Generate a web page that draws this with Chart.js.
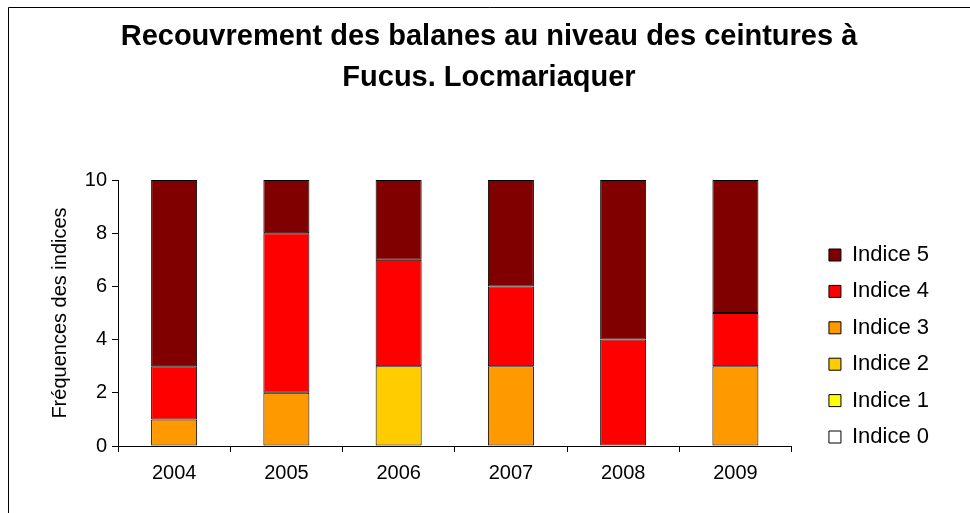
<!DOCTYPE html>
<html><head><meta charset="utf-8">
<script src="https://cdn.jsdelivr.net/npm/chart.js@4/dist/chart.umd.min.js"></script>
<style>html,body{margin:0;padding:0;background:#fff}#wrap{width:970px;height:513px;position:relative}</style>
</head><body><div id="wrap"><canvas id="c" width="970" height="513"></canvas></div>
<script>
const years = ['2004','2005','2006','2007','2008','2009'];
const indice0 = [0,0,0,0,0,0];
const indice1 = [0,0,0,0,0,0];
const indice2 = [0,0,3,0,0,0];
const indice3 = [1,2,0,3,0,3];
const indice4 = [2,6,4,3,4,2];
const indice5 = [7,2,3,4,6,5];
const seriesNames = ['Indice 0','Indice 1','Indice 2','Indice 3','Indice 4','Indice 5'];
const seriesColors = ['#FFFFFF','#FFFF00','#FFCC00','#FF9900','#FF0000','#800000'];
const titleLines = ['Recouvrement des balanes au niveau des ceintures à','Fucus. Locmariaquer'];
const yTitle = 'Fréquences des indices';

const allSeries = [indice0, indice1, indice2, indice3, indice4, indice5];
const FONT = "'Liberation Sans', Arial, sans-serif";

const framePlugin = {
  id: 'frame',
  beforeDraw(chart) {
    const ctx = chart.ctx;
    ctx.save();
    ctx.fillStyle = '#fff';
    ctx.fillRect(0, 0, chart.width, chart.height);
    ctx.restore();
  },
  afterDraw(chart) {
    const ctx = chart.ctx;
    ctx.save();
    ctx.strokeStyle = '#000';
    ctx.lineWidth = 1;
    ctx.beginPath();
    ctx.moveTo(8.5, chart.height);
    ctx.lineTo(8.5, 7.5);
    ctx.lineTo(chart.width, 7.5);
    ctx.stroke();
    ctx.restore();
  },
  afterLayout(chart) {
    const lg = chart.legend;
    if (lg) {
      lg.left += 23; lg.right += 23;
      lg.top += 99; lg.bottom += 99;
    }
    const tb = chart.titleBlock;
    if (tb) {
      tb.left += 11; tb.right += 11;
    }
  }
};

new Chart(document.getElementById('c'), {
  type: 'bar',
  data: {
    labels: years,
    datasets: allSeries.map((d, i) => ({
      label: seriesNames[i],
      data: d,
      backgroundColor: seriesColors[i],
      borderColor: '#000',
      borderWidth: 1,
      borderSkipped: false,
      categoryPercentage: 1,
      barPercentage: 0.41
    }))
  },
  options: {
    responsive: false,
    devicePixelRatio: 1,
    animation: false,
    layout: { padding: { left: 40, right: 54, top: 0, bottom: 19 } },
    plugins: {
      title: {
        display: true,
        text: titleLines,
        color: '#000',
        font: { family: FONT, size: 29, weight: 'bold', lineHeight: 41/29 },
        padding: { top: 16, bottom: 82 }
      },
      legend: {
        position: 'right',
        reverse: true,
        labels: {
          boxWidth: 12, boxHeight: 12, padding: 14.4,
          color: '#000',
          font: { family: FONT, size: 22 }
        }
      },
      tooltip: { enabled: false }
    },
    scales: {
      x: {
        stacked: true,
        offset: true,
        grid: { display: true, drawOnChartArea: false, drawTicks: true, tickLength: 6, color: '#000', offset: true },
        border: { color: '#000' },
        ticks: { color: '#000', font: { family: FONT, size: 20 }, padding: 9 }
      },
      y: {
        stacked: true,
        min: 0, max: 10,
        afterFit(s) { s.width = 78; },
        grid: { display: true, drawOnChartArea: false, drawTicks: true, tickLength: 6, color: '#000' },
        border: { color: '#000' },
        ticks: { stepSize: 2, color: '#000', font: { family: FONT, size: 20 }, padding: 5 },
        title: { display: true, text: yTitle, color: '#000', font: { family: FONT, size: 20 }, padding: { top: 8, bottom: 4 } }
      }
    }
  },
  plugins: [framePlugin]
});
</script>
</body></html>
